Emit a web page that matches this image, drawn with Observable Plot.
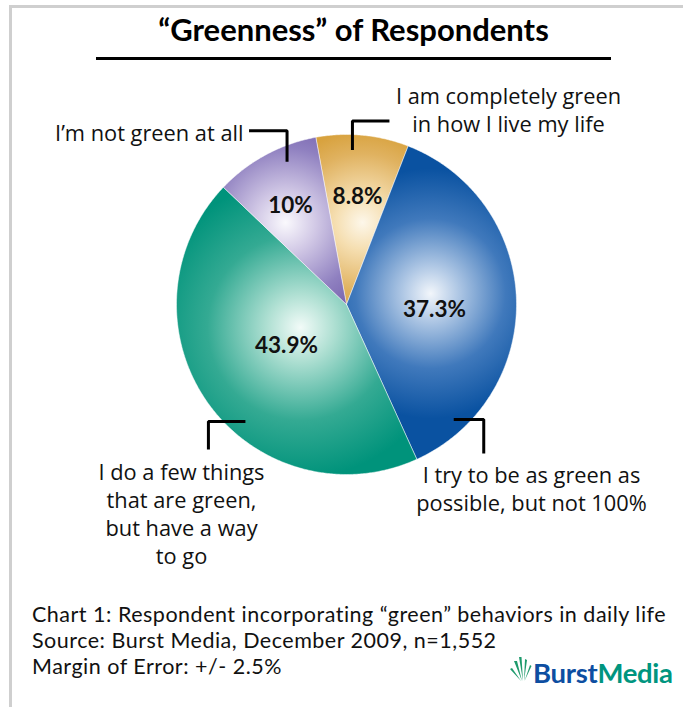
<!DOCTYPE html>
<html>
<head>
<meta charset="utf-8">
<script src="https://cdn.jsdelivr.net/npm/d3@7"></script>
<script src="https://cdn.jsdelivr.net/npm/@observablehq/plot@0.6"></script>
<style>
  html, body { margin: 0; padding: 0; background: #fff; }
  #wrap { position: relative; width: 683px; height: 707px; overflow: hidden; font-family: "Open Sans", Lato, sans-serif; color: #111; }
  #chart { position: absolute; left: 0; top: 0; }
  .frame { position: absolute; background: #cfcfcf; }
  #title { position: absolute; left: 96px; width: 515px; top: 14px; text-align: center; font-family: Lato, sans-serif; font-weight: 700; font-size: 31px; line-height: 31px; white-space: nowrap; color: #000; }
  #rule { position: absolute; left: 96px; width: 515px; top: 57px; height: 3px; background: #000; }
  #caption { position: absolute; left: 32px; top: 601px; font-family: Lato, sans-serif; font-size: 21.5px; line-height: 26px; letter-spacing: 0.5px; white-space: nowrap; }
  #logo { position: absolute; left: 508px; top: 655px; height: 34px; display: flex; align-items: flex-end; }
  #logo .word { font-family: Lato, sans-serif; font-weight: 700; font-size: 27.5px; line-height: 32px; letter-spacing: -0.3px; }
</style>
</head>
<body>
<div id="wrap">
  <div id="chart"></div>
  <div class="frame" style="left:9px;top:5px;width:674px;height:3px"></div>
  <div class="frame" style="left:9px;top:5px;width:3px;height:702px"></div>
  <div id="title"></div>
  <div id="rule"></div>
  <div id="caption"></div>
  <div id="logo">
    <svg width="24" height="30" viewBox="0 0 24 30" style="margin-right:1px;margin-bottom:6px">
      <g fill="#1e9a6c">
        <path d="M14 28 L6 8 L9 8 Z"/>
        <path d="M15 28 L11 4 L13.5 4 Z"/>
        <path d="M16 28 L17 6 L19 7 Z"/>
        <path d="M16.5 28 L22 12 L23.5 13 Z"/>
        <path d="M13 28 L2 16 L4 15 Z"/>
      </g>
    </svg>
    <span class="word" style="color:#0d4ea1">Burst</span><span class="word" style="color:#00957f">Media</span>
  </div>
</div>
<script>
// ---------------- data ----------------
const titleText = "“Greenness” of Respondents";
const categories = [
  "I am completely green in how I live my life",
  "I try to be as green as possible, but not 100%",
  "I do a few things that are green, but have a way to go",
  "I’m not green at all"
];
const labelLines = [
  ["I am completely green", "in how I live my life"],
  ["I try to be as green as", "possible, but not 100%"],
  ["I do a few things", "that are green,", "but have a way", "to go"],
  ["I’m not green at all"]
];
const shares = [8.8, 37.3, 43.9, 10];
const captionLines = [
  "Chart 1: Respondent incorporating “green” behaviors in daily life",
  "Source: Burst Media, December 2009, n=1,552",
  "Margin of Error: +/- 2.5%"
];

// ---------------- layout / style ----------------
const CX = 346, CY = 304, R = 170, W = 683, H = 707;
const START_DEG = -10.4;
const rad = d => d * Math.PI / 180;
const ux = px => (px - CX) / R;          // page px -> unit x
const uy = py => (CY - py) / R;          // page px -> unit y (up)
const gradientStops = [
  [[0, "#fdf7ea"], [0.3, "#f5deb0"], [0.75, "#e0b260"], [1, "#d8a23e"]],
  [[0, "#f2f6fb"], [0.22, "#b0c8e5"], [0.6, "#4079bc"], [1, "#0a52a1"]],
  [[0, "#f2fbf8"], [0.22, "#b0e0d3"], [0.62, "#34aa93"], [1, "#00937b"]],
  [[0, "#faf9fd"], [0.3, "#d2c9e6"], [0.75, "#8f80c0"], [1, "#7a67b0"]]
];
const gradientCenters = [[362, 222], [430, 293], [300, 327], [285, 222]];
const gradientRadius = [92, 125, 150, 100];
const pctPos = [[0.639, 0.4], [0.518, 4.8], [0.428, 1.1], [0.669, -1.1]]; // radius fraction, angle shift
const labelAnchor = [
  {x: 508, y: 131, anchor: "middle"},
  {x: 531, y: 510, anchor: "middle"},
  {x: 181, y: 563, anchor: "middle"},
  {x: 243, y: 140, anchor: "end"}
];
const leaders = [
  {angle: 2.2,   r: 0.91, legs: [[0, -29], [37, 0]]},
  {angle: 137,   r: 0.925, legs: [[30, 0], [0, 34]]},
  {angle: 220.8, r: 0.91, legs: [[-37, 0], [0, 28]]},
  {angle: -22.6, r: 0.91, legs: [[0, -31], [-38, 0]]}
];

// ---------------- build ----------------
const data = categories.map((c, i) => ({cat: c, share: shares[i], i}));
const arcs = d3.pie().sort(null).value(d => d.share)
  .startAngle(rad(START_DEG)).endAngle(rad(START_DEG) + 2 * Math.PI)(data);

const slicePts = arcs.flatMap(a => {
  const n = Math.ceil((a.endAngle - a.startAngle) / rad(0.5));
  const pts = [{cat: a.data.cat, x: 0, y: 0}];
  for (let k = 0; k <= n; ++k) {
    const t = a.startAngle + (a.endAngle - a.startAngle) * k / n;
    pts.push({cat: a.data.cat, x: Math.sin(t), y: Math.cos(t)});
  }
  pts.push({cat: a.data.cat, x: 0, y: 0});
  return pts;
});

const pctData = arcs.map(a => {
  const [rf, shift] = pctPos[a.data.i];
  const t = (a.startAngle + a.endAngle) / 2 + rad(shift);
  return {x: rf * Math.sin(t), y: rf * Math.cos(t), text: `${a.data.share}%`};
});

const labelData = labelLines.map((lines, i) => ({
  x: ux(labelAnchor[i].x), y: uy(labelAnchor[i].y),
  text: lines.join("\n"), anchor: labelAnchor[i].anchor
}));

const leaderPts = leaders.flatMap((l, i) => {
  let x = l.r * Math.sin(rad(l.angle)), y = l.r * Math.cos(rad(l.angle));
  const pts = [{id: i, x, y}];
  for (const [dx, dy] of l.legs) { x += dx / R; y -= dy / R; pts.push({id: i, x, y}); }
  return pts;
});

const gradIds = categories.map((c, i) => `slice-grad-${i}`);
const labelStyle = {x: "x", y: "y", text: "text", lineAnchor: "bottom", lineHeight: 1.27, fontSize: 21.8, fontFamily: "'Open Sans', Lato, sans-serif", fill: "#111"};

const chart = Plot.plot({
  width: W, height: H,
  marginLeft: CX - R, marginRight: W - (CX + R),
  marginTop: CY - R, marginBottom: H - (CY + R),
  x: {domain: [-1, 1], axis: null},
  y: {domain: [-1, 1], axis: null},
  color: {domain: categories, range: gradIds.map(id => `url(#${id})`)},
  style: {fontFamily: "'Open Sans', Lato, sans-serif", background: "transparent", overflow: "visible"},
  marks: [
    Plot.line(slicePts, {x: "x", y: "y", z: "cat", fill: "cat", stroke: "#ffffff", strokeOpacity: 0.6, strokeWidth: 0.8, curve: "linear"}),
    Plot.text(pctData, {x: "x", y: "y", text: "text", fontSize: 22.5, fontWeight: "bold", fontFamily: "Lato, sans-serif", fill: "#111"}),
    Plot.line(leaderPts, {x: "x", y: "y", z: "id", stroke: "#000", strokeWidth: 3, strokeLinejoin: "miter", strokeLinecap: "butt"}),
    Plot.text(labelData.filter(d => d.anchor === "middle"), {...labelStyle, textAnchor: "middle"}),
    Plot.text(labelData.filter(d => d.anchor === "end"), {...labelStyle, textAnchor: "end"})
  ]
});

// gradients positioned through the plot's own scales
const sx = chart.scale("x"), sy = chart.scale("y");
const NS = "http://www.w3.org/2000/svg";
const defs = document.createElementNS(NS, "defs");
gradIds.forEach((id, i) => {
  const g = document.createElementNS(NS, "radialGradient");
  g.setAttribute("id", id);
  g.setAttribute("gradientUnits", "userSpaceOnUse");
  const [gx, gy] = gradientCenters[i];
  g.setAttribute("cx", sx.apply(ux(gx)));
  g.setAttribute("cy", sy.apply(uy(gy)));
  g.setAttribute("r", gradientRadius[i]);
  for (const [o, c] of gradientStops[i]) {
    const s = document.createElementNS(NS, "stop");
    s.setAttribute("offset", o);
    s.setAttribute("stop-color", c);
    g.appendChild(s);
  }
  defs.appendChild(g);
});
chart.insertBefore(defs, chart.firstChild);
document.getElementById("chart").appendChild(chart);

document.getElementById("title").textContent = titleText;
document.getElementById("caption").innerHTML = captionLines.map(l => `<div>${l}</div>`).join("");
</script>
</body>
</html>
